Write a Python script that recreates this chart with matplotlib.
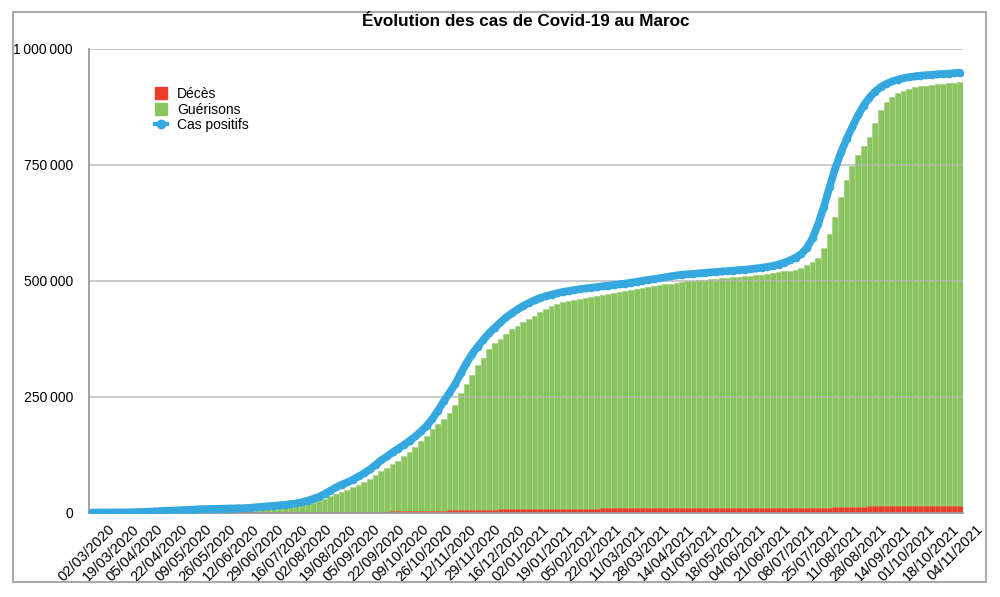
"""Évolution des cas de Covid-19 au Maroc: stacked bars + cumulative line."""

import matplotlib

matplotlib.use("Agg")
import matplotlib.pyplot as plt
import matplotlib.transforms as mtransforms
import numpy as np
import pandas as pd
from matplotlib.lines import Line2D
from matplotlib.patches import Patch, Rectangle

plt.rcParams["font.family"] = ["Liberation Sans", "DejaVu Sans"]

# one sample every 4 days, 02/03/2020 -> 04/11/2021
dates = pd.date_range("2020-03-02", "2021-11-04", freq="4D")

# values in thousands
cas_positifs = [
    0, 0, 0, 0, 0.1, 0.1, 0.2, 0.5, 0.9, 1.3,
    1.7, 2.3, 3.0, 3.7, 4.1, 4.6, 5.2, 6.0, 6.4, 7.0,
    7.3, 7.6, 7.8, 8.0, 8.3, 8.6, 9.0, 9.6, 10.3, 11.5,
    12.5, 13.5, 14.6, 15.5, 16.5, 18.3, 19.6, 22.2, 25.5, 29.6,
    34, 40, 47, 54, 60, 65, 71, 78, 85, 93,
    103, 113, 121, 130, 138, 146, 155, 164, 175, 187,
    202, 220, 240, 258, 277, 300, 322, 342, 358, 373,
    387, 399, 410, 421, 430, 438, 446, 452, 458, 463,
    467, 470, 473, 476, 478, 480, 482, 483.5, 485, 486.5,
    488, 489.5, 491, 492.5, 494, 496, 498, 500, 502, 503.5,
    505.5, 507.5, 509.5, 511.5, 513, 514, 515, 516, 517, 518,
    519, 520, 521, 522, 523, 524, 525, 526.5, 528, 530,
    532, 535, 539, 544, 550, 558, 571, 592, 623, 660,
    703, 743, 777, 806, 832, 857, 878, 895, 908, 918,
    925, 930, 934, 937, 939.5, 941, 942.5, 943.5, 944.5, 945.5,
    946.3, 947, 948, 949,
]

guerisons = [
    0, 0, 0, 0, 0, 0, 0, 0, 0.1, 0.1,
    0.2, 0.3, 0.5, 0.8, 1.0, 1.6, 2.2, 2.8, 3.5, 4.0,
    4.4, 4.8, 5.4, 6.4, 7.2, 7.6, 7.8, 8.1, 8.4, 8.7,
    9.2, 10.2, 11.4, 12.6, 13.9, 15.0, 16.0, 17.0, 18.5, 21.0,
    24.5, 29, 35, 40, 44, 49, 55, 60, 66, 72,
    81, 89, 97, 104, 112, 122, 131, 141, 154, 166,
    180, 192, 202, 214, 232, 257, 277, 297, 318, 334,
    352, 365, 375, 385, 395, 403, 410, 417, 425, 432,
    439, 445, 450, 454, 457, 459, 461, 463.5, 465.5, 467.5,
    469.5, 471, 473, 475.5, 477.5, 480, 482, 484, 486, 488,
    490, 492, 494, 495.5, 497, 498.5, 500, 501, 502, 503.5,
    504.5, 505.5, 506.5, 507.5, 508.5, 509.5, 510.5, 511.5, 513, 515,
    516.5, 518, 520, 522, 524, 528, 533, 540, 550, 570,
    600, 638, 680, 718, 748, 771, 790, 810, 840, 868,
    885, 897, 905, 910, 914, 917, 919.5, 921, 922.5, 924,
    925, 926, 927, 928,
]

deces = [
    0, 0, 0, 0, 0, 0.005, 0.01, 0.03, 0.07, 0.09,
    0.12, 0.14, 0.16, 0.17, 0.18, 0.18, 0.19, 0.19, 0.19, 0.20,
    0.20, 0.20, 0.20, 0.21, 0.21, 0.21, 0.21, 0.21, 0.22, 0.23,
    0.23, 0.23, 0.24, 0.25, 0.26, 0.29, 0.31, 0.37, 0.40, 0.46,
    0.53, 0.63, 0.75, 0.86, 1.0, 1.14, 1.25, 1.36, 1.49, 1.63,
    1.79, 1.94, 2.08, 2.22, 2.37, 2.53, 2.70, 2.91, 3.13, 3.36,
    3.63, 3.90, 4.20, 4.50, 4.80, 5.05, 5.30, 5.57, 5.80, 6.04,
    6.26, 6.47, 6.68, 6.88, 7.06, 7.20, 7.35, 7.55, 7.70, 7.88,
    8.00, 8.10, 8.20, 8.30, 8.36, 8.42, 8.48, 8.53, 8.57, 8.62,
    8.66, 8.70, 8.72, 8.75, 8.77, 8.80, 8.82, 8.85, 8.87, 8.90,
    8.92, 8.95, 8.97, 8.99, 9.01, 9.03, 9.04, 9.05, 9.07, 9.08,
    9.10, 9.11, 9.13, 9.15, 9.17, 9.18, 9.21, 9.24, 9.26, 9.28,
    9.30, 9.33, 9.36, 9.40, 9.45, 9.52, 9.60, 9.72, 9.92, 10.2,
    10.5, 10.9, 11.4, 11.9, 12.3, 12.6, 12.9, 13.2, 13.4, 13.6,
    13.75, 13.9, 14.0, 14.1, 14.2, 14.25, 14.3, 14.35, 14.4, 14.45,
    14.5, 14.55, 14.6, 14.65,
]

tick_labels = [
    "02/03/2020", "19/03/2020", "05/04/2020", "22/04/2020", "09/05/2020",
    "26/05/2020", "12/06/2020", "29/06/2020", "16/07/2020", "02/08/2020",
    "19/08/2020", "05/09/2020", "22/09/2020", "09/10/2020", "26/10/2020",
    "12/11/2020", "29/11/2020", "16/12/2020", "02/01/2021", "19/01/2021",
    "05/02/2021", "22/02/2021", "11/03/2021", "28/03/2021", "14/04/2021",
    "01/05/2021", "18/05/2021", "04/06/2021", "21/06/2021", "08/07/2021",
    "25/07/2021", "11/08/2021", "28/08/2021", "14/09/2021", "01/10/2021",
    "18/10/2021", "04/11/2021",
]
y_ticks = [0, 250000, 500000, 750000, 1000000]
y_tick_labels = ["0", "250\u2009000", "500\u2009000", "750\u2009000", "1\u2009000\u2009000"]

_GREEN = "#8bc560"
_GREEN_EDGE = "#a9d68a"
_RED = "#e93e2d"
_RED_EDGE = "#f2784a"
_BLUE = "#35a8df"
_GRID = "#b4b4b4"


def main():
    fig = plt.figure(figsize=(10, 5.97), dpi=100)
    W, H = 1000, 597
    ax = fig.add_axes([89 / W, 1 - 512.5 / H, 874 / W, 463.5 / H])

    g = np.array(guerisons) * 1000
    d = np.array(deces) * 1000
    c = np.array(cas_positifs) * 1000

    ax.bar(dates, g, width=4, color=_GREEN, edgecolor=_GREEN_EDGE, linewidth=0.6, zorder=1)
    ax.bar(dates, d, width=4, color=_RED, edgecolor=_RED_EDGE, linewidth=0.4, zorder=1.1)

    for yv in y_ticks[1:]:
        ax.axhline(yv, color=_GRID, lw=1.3, alpha=0.75, zorder=2)

    ax.plot(dates, c, color=_BLUE, lw=5.5, marker="o", ms=4.5, solid_capstyle="round",
            solid_joinstyle="round", zorder=3)

    ax.set_xlim(dates[0] - pd.Timedelta(days=2), dates[-1] + pd.Timedelta(days=2))
    ax.set_ylim(0, 1000000)

    # rotated date labels, drawn as text so they can sit a little right of the tick
    tick_dates = pd.to_datetime(tick_labels, format="%d/%m/%Y")
    ax.set_xticks(tick_dates)
    ax.set_xticklabels([])
    lab_trans = ax.get_xaxis_transform() + mtransforms.ScaledTranslation(
        16 / 100, -10 / 100, fig.dpi_scale_trans)
    for td, lab in zip(tick_dates, tick_labels):
        ax.text(td, 0, lab, transform=lab_trans, rotation=45, ha="right", va="top",
                rotation_mode="anchor", fontsize=10.5, clip_on=False)

    ax.set_yticks(y_ticks)
    ax.set_yticklabels(y_tick_labels, fontsize=10)
    ax.tick_params(axis="both", length=0)
    ax.tick_params(axis="y", pad=11.5)

    for s in ("top", "right"):
        ax.spines[s].set_visible(False)
    for s in ("left", "bottom"):
        ax.spines[s].set_color("#9a9a9a")
        ax.spines[s].set_linewidth(1.3)

    fig.text(526 / W, 1 - 22 / H, "Évolution des cas de Covid-19 au Maroc",
             ha="center", va="center", fontsize=12.3, fontweight="bold")

    handles = [
        Patch(facecolor=_RED, edgecolor=_RED),
        Patch(facecolor=_GREEN, edgecolor=_GREEN),
        Line2D([0], [0], color=_BLUE, lw=3, marker="o", ms=6),
    ]
    fig.legend(handles, ["Décès", "Guérisons", "Cas positifs"],
               loc="upper left", bbox_to_anchor=(148 / W, 1 - 80 / H),
               frameon=False, fontsize=10, handlelength=0.9, handleheight=0.9,
               handletextpad=0.7, labelspacing=0.12, borderpad=0)

    fig.add_artist(Rectangle((13 / W, 1 - 582 / H), 973 / W, 570 / H,
                             transform=fig.transFigure, fill=False,
                             edgecolor="#ababab", lw=1.5))

    fig.savefig("out.png", dpi=100)
    plt.close(fig)


if __name__ == "__main__":
    main()
